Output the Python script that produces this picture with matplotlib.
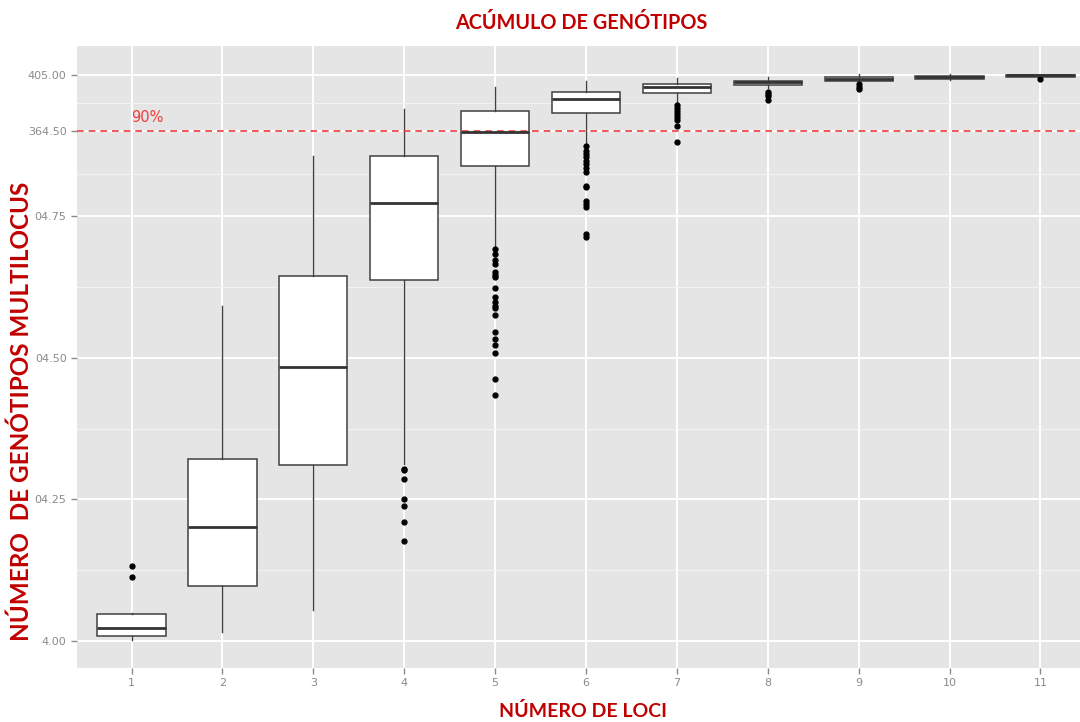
import matplotlib
matplotlib.use("Agg")
import matplotlib.pyplot as plt
from matplotlib.ticker import FixedLocator

# box statistics (internal scale 4..5, 5 = 405 genotypes)
loci = [1, 2, 3, 4, 5, 6, 7, 8, 9, 10, 11]
whislo = [4.002, 4.016, 4.054, 4.313, 4.697, 4.879, 4.950, 4.977, 4.986, 4.991, 4.997]
q1 = [4.009, 4.097, 4.310, 4.637, 4.839, 4.932, 4.968, 4.982, 4.989, 4.993, 4.997]
med = [4.022, 4.202, 4.484, 4.774, 4.899, 4.957, 4.978, 4.987, 4.993, 4.9956, 4.999]
q3 = [4.047, 4.322, 4.644, 4.856, 4.936, 4.970, 4.984, 4.990, 4.996, 4.998, 5.000]
whishi = [4.049, 4.592, 4.856, 4.940, 4.978, 4.990, 4.995, 4.997, 5.001, 5.002, 5.000]
fliers = [
    [4.113, 4.133],
    [],
    [],
    [4.301, 4.304, 4.286, 4.251, 4.238, 4.210, 4.176],
    [4.693, 4.684, 4.673, 4.666, 4.651, 4.647, 4.642, 4.623, 4.607, 4.599,
     4.592, 4.588, 4.575, 4.545, 4.534, 4.522, 4.508, 4.463, 4.434],
    [4.875, 4.866, 4.860, 4.854, 4.848, 4.842, 4.836, 4.828, 4.804, 4.801,
     4.777, 4.772, 4.766, 4.719, 4.714],
    [4.946, 4.941, 4.936, 4.931, 4.926, 4.920, 4.909, 4.881],
    [4.9705, 4.966, 4.962, 4.956],
    [4.9835, 4.979, 4.975],
    [],
    [4.9935],
]

ytick_pos = [4.0, 4.25, 4.5, 4.75, 4.9, 5.0]
ytick_lab = ["4.00", "04.25", "04.50", "04.75", "364.50", "405.00"]
minor_pos = [4.125, 4.375, 4.625, 4.825, 4.95]
line90 = 4.9

stats = []
for i in range(len(loci)):
    stats.append({"whislo": whislo[i], "q1": q1[i], "med": med[i], "q3": q3[i],
                  "whishi": whishi[i], "fliers": fliers[i], "label": str(loci[i])})

fig = plt.figure(figsize=(10.8, 7.22), dpi=100)
ax = fig.add_axes([77 / 1080, 1 - 668 / 722, 1018 / 1080, 622 / 722])
ax.set_facecolor("#E5E5E5")
for s in ax.spines.values():
    s.set_visible(False)

ax.set_axisbelow(True)
ax.yaxis.set_minor_locator(FixedLocator(minor_pos))
ax.grid(which="major", color="white", lw=1.4)
ax.grid(which="minor", axis="y", color="#F2F2F2", lw=0.8)

ax.bxp(stats, positions=loci, widths=0.75, patch_artist=True, showcaps=False,
       boxprops=dict(facecolor="white", edgecolor="#404040", lw=1.1),
       medianprops=dict(color="#333333", lw=2.0),
       whiskerprops=dict(color="#404040", lw=1.0),
       flierprops=dict(marker="o", markerfacecolor="black", markeredgecolor="black",
                       markersize=3.5))

ax.axhline(line90, color="#F03C3C", lw=1.2, ls=(0, (4, 3)))
ax.text(1.0, 4.925, "90%", color="#F03C3C", fontsize=10.5, ha="left", va="center")

ax.set_xlim(0.4, 11.6)
ax.set_ylim(3.952, 5.051)
ax.set_xticks(loci)
ax.set_xticklabels([str(v) for v in loci])
ax.set_yticks(ytick_pos)
ax.set_yticklabels(ytick_lab)
ax.tick_params(which="major", colors="#8A8A8A", labelsize=8, length=4, width=1)
ax.tick_params(which="minor", length=0)

red = "#C00000"
fig.text(581 / 1080, 1 - 23 / 722, "ACÚMULO DE GENÓTIPOS", color=red, fontsize=14.3,
         fontweight="bold", family="Lato", ha="center", va="center")
fig.text(583 / 1080, 1 - 711 / 722, "NÚMERO DE LOCI", color=red, fontsize=14,
         fontweight="bold", family="Lato", ha="center", va="center")
fig.text(21 / 1080, 1 - 411 / 722, "NÚMERO  DE GENÓTIPOS MULTILOCUS", color=red,
         fontsize=17.5, fontweight="bold", family="Lato", ha="center", va="center",
         rotation=90)

fig.savefig("out.png", dpi=100)
